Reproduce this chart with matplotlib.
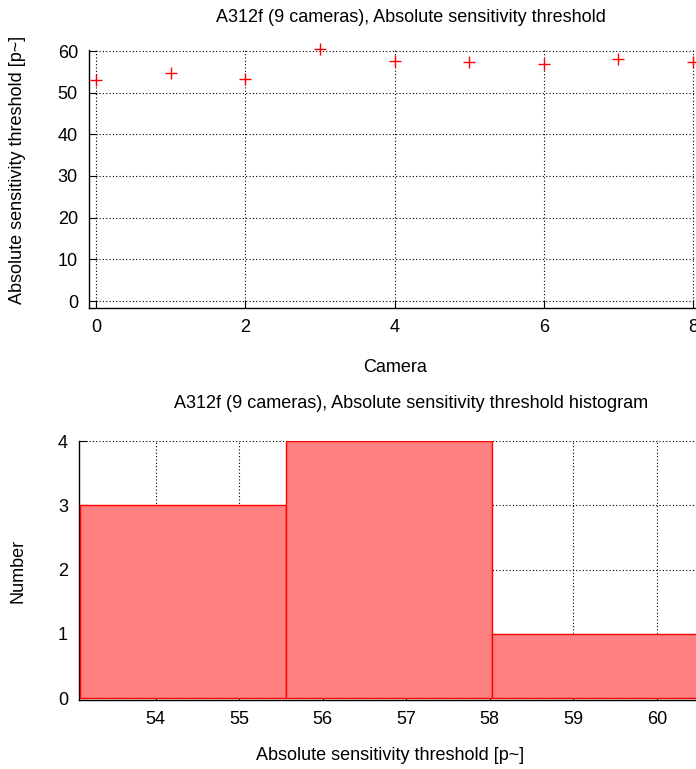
import matplotlib
matplotlib.use("Agg")
import matplotlib.pyplot as plt

plt.rcParams['font.family'] = ['Liberation Sans', 'DejaVu Sans']
plt.rcParams['font.size'] = 13

# data
cameras = [0, 1, 2, 3, 4, 5, 6, 7, 8]
threshold = [53.0, 54.7, 53.2, 60.4, 57.6, 57.4, 56.9, 58.2, 57.4]

bin_edges = [53.09, 55.56, 58.03, 60.50]
bin_counts = [3, 4, 1]

title_top = "A312f (9 cameras), Absolute sensitivity threshold"
title_bot = "A312f (9 cameras), Absolute sensitivity threshold histogram"
ylabel_top = "Absolute sensitivity threshold [p~]"

grid_style = dict(color='black', linestyle=(0, (1, 2)), linewidth=0.8)

fig = plt.figure(figsize=(6.96, 7.69), dpi=100)

# top: one point per camera
ax1 = fig.add_axes([89 / 696, 1 - 308 / 769, (696 - 89) / 696, (308 - 50) / 769])
ax1.plot(cameras, threshold, linestyle='none', marker='+', color='red',
         markersize=9, markeredgewidth=1.0, clip_on=False, zorder=3)
ax1.set_xlim(-0.094, 8.04)
ax1.set_ylim(-1.68, 60.24)
ax1.set_xticks([0, 2, 4, 6, 8])
ax1.set_yticks([0, 10, 20, 30, 40, 50, 60])
ax1.grid(True, **grid_style)
ax1.set_axisbelow(True)

# bottom: histogram
ax2 = fig.add_axes([79 / 696, 1 - 700 / 769, (696 - 79) / 696, (700 - 441) / 769])
widths = [bin_edges[i + 1] - bin_edges[i] for i in range(len(bin_counts))]
ax2.bar(bin_edges[:-1], bin_counts, width=widths, align='edge',
        facecolor='#ff8080', edgecolor='red', linewidth=1.0, zorder=3)
ax2.set_xlim(53.08, 60.47)
ax2.set_ylim(-0.03, 4)
ax2.set_xticks([54, 55, 56, 57, 58, 59, 60])
ax2.set_yticks([0, 1, 2, 3, 4])
ax2.grid(True, **grid_style)
ax2.set_axisbelow(True)

for ax in (ax1, ax2):
    ax.spines['top'].set_visible(False)
    ax.spines['right'].set_visible(False)
    ax.spines['left'].set_linewidth(1.0)
    ax.spines['bottom'].set_linewidth(1.0)
    ax.tick_params(direction='in', length=6, width=0.8, pad=8, labelsize=13)

fig.text(411 / 696, 1 - 18 / 769, title_top, ha='center', va='center', fontsize=13)
fig.text(395 / 696, 1 - 367 / 769, "Camera", ha='center', va='center', fontsize=13)
fig.text(18 / 696, 1 - 170 / 769, ylabel_top, ha='center', va='center',
         rotation=90, fontsize=13)

fig.text(411 / 696, 1 - 404 / 769, title_bot, ha='center', va='center', fontsize=13)
fig.text(390 / 696, 1 - 756 / 769, ylabel_top, ha='center', va='center', fontsize=13)
fig.text(18 / 696, 1 - 571 / 769, "Number", ha='center', va='center',
         rotation=90, fontsize=13)

fig.savefig("out.png", dpi=100)
